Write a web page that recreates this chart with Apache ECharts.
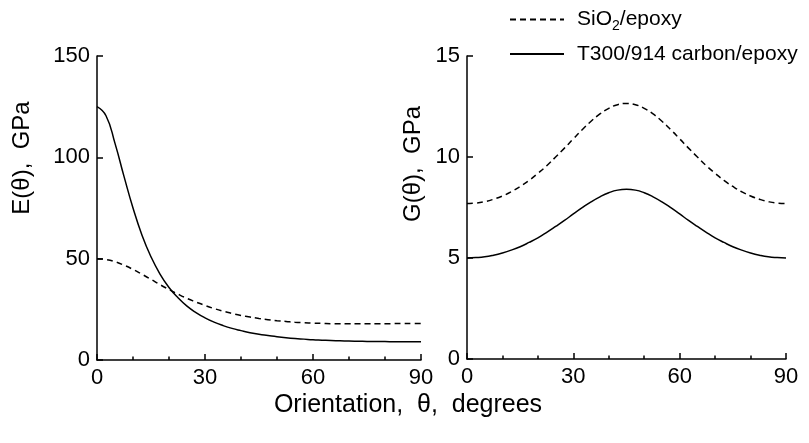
<!DOCTYPE html>
<html>
<head>
<meta charset="utf-8">
<script src="https://cdn.jsdelivr.net/npm/echarts@6/dist/echarts.min.js"></script>
<style>
  html, body { margin: 0; padding: 0; background: #fff; }
  #chart { width: 809px; height: 443px; }
</style>
</head>
<body>
<div id="chart"></div>
<script>
// Orientation angle (degrees)
const theta = [0,2.5,5,7.5,10,12.5,15,17.5,20,22.5,25,27.5,30,32.5,35,37.5,40,42.5,45,
  47.5,50,52.5,55,57.5,60,62.5,65,67.5,70,72.5,75,77.5,80,82.5,85,87.5,90];

// Young's modulus E(theta), GPa
const eCarbon = [125,120.5,106.9,90.6,75.0,61.6,50.9,42.4,35.8,30.7,26.6,23.4,20.8,18.7,17.0,15.6,14.5,13.5,12.7,
  12.1,11.5,11.0,10.6,10.3,10.0,9.8,9.6,9.5,9.35,9.26,9.18,9.12,9.07,9.04,9.02,9.0,9.0];
const eSiO2 = [50,49.6,48.5,46.8,44.7,42.3,39.8,37.2,34.8,32.5,30.4,28.6,26.9,25.4,24.1,23.0,22.0,21.2,20.5,
  19.9,19.4,19.0,18.6,18.4,18.2,18.05,17.9,17.9,17.86,17.86,17.87,17.9,17.93,17.95,17.98,18.0,18.0];

// Shear modulus G(theta), GPa
const gCarbon = [5.00,5.02,5.06,5.14,5.25,5.39,5.56,5.77,6.00,6.27,6.56,6.86,7.18,7.49,7.78,8.03,8.23,8.36,8.40,
  8.36,8.23,8.03,7.78,7.49,7.18,6.86,6.56,6.27,6.00,5.77,5.56,5.39,5.25,5.14,5.06,5.02,5.00];
const gSiO2 = [7.70,7.72,7.79,7.91,8.07,8.28,8.54,8.84,9.19,9.57,10.00,10.44,10.90,11.35,11.77,12.13,12.41,12.59,12.65,
  12.59,12.41,12.13,11.77,11.35,10.90,10.44,10.00,9.57,9.19,8.84,8.54,8.28,8.07,7.91,7.79,7.72,7.70];

const xTicks = [0, 30, 60, 90];
const eTicks = [0, 50, 100, 150];
const gTicks = [0, 5, 10, 15];

const nameSiO2 = 'SiO2/epoxy';
const nameCarbon = 'T300/914 carbon/epoxy';

const FONT = '"Liberation Sans", Arial, sans-serif';
const pair = (ys) => theta.map((t, i) => [t, ys[i]]);

function xAxisCfg(idx) {
  return {
    type: 'value', gridIndex: idx, min: xTicks[0], max: xTicks[xTicks.length - 1], interval: 30,
    axisLine: { show: true, onZero: false, lineStyle: { color: '#000', width: 1.5 } },
    axisTick: { show: true, inside: true, length: 6, lineStyle: { color: '#000', width: 1.5 } },
    minorTick: { show: true, splitNumber: 3, length: 3.5, lineStyle: { color: '#000', width: 1.5 } },
    splitLine: { show: false },
    axisLabel: { color: '#000', fontSize: 22, fontFamily: FONT, margin: 7 }
  };
}
function yAxisCfg(idx, ticks) {
  return {
    type: 'value', gridIndex: idx, min: ticks[0], max: ticks[ticks.length - 1], interval: ticks[1] - ticks[0],
    axisLine: { show: true, lineStyle: { color: '#000', width: 1.5 } },
    axisTick: { show: true, inside: true, length: 6, lineStyle: { color: '#000', width: 1.5 } },
    splitLine: { show: false },
    axisLabel: { color: '#000', fontSize: 22, fontFamily: FONT, margin: 7 }
  };
}
function lineSeries(name, xi, yi, data, dashed) {
  return {
    name: name, type: 'line', xAxisIndex: xi, yAxisIndex: yi, data: pair(data),
    showSymbol: false, symbol: 'none', smooth: 0.5, animation: false,
    lineStyle: { color: '#000', width: 1.5, type: dashed ? [6, 4] : 'solid' },
    itemStyle: { color: '#000' }
  };
}

const chart = echarts.init(document.getElementById('chart'), null, { renderer: 'canvas' });
chart.setOption({
  animation: false,
  backgroundColor: '#fff',
  grid: [
    { left: 97, top: 56, width: 324, height: 304 },
    { left: 467, top: 56, width: 319, height: 303 }
  ],
  xAxis: [xAxisCfg(0), xAxisCfg(1)],
  yAxis: [yAxisCfg(0, eTicks), yAxisCfg(1, gTicks)],
  legend: {
    data: [nameSiO2, nameCarbon],
    orient: 'vertical', left: 504, top: 4,
    itemWidth: 54, itemHeight: 14, itemGap: 10,
    itemStyle: { opacity: 0 },
    formatter: function (n) {
      return n === nameSiO2 ? '{a|SiO}{s|2}{a|/epoxy}' : '{a|' + n + '}';
    },
    textStyle: {
      color: '#000', fontFamily: FONT, fontSize: 21, padding: [0, 0, 0, 8],
      rich: {
        a: { fontSize: 21, fontFamily: FONT, color: '#000', height: 25 },
        s: { fontSize: 14, fontFamily: FONT, color: '#000', padding: [14, 0, 0, 0] }
      }
    }
  },
  series: [
    lineSeries(nameSiO2, 0, 0, eSiO2, true),
    lineSeries(nameCarbon, 0, 0, eCarbon, false),
    lineSeries(nameSiO2, 1, 1, gSiO2, true),
    lineSeries(nameCarbon, 1, 1, gCarbon, false)
  ],
  graphic: [
    { type: 'text', x: 22, y: 158, rotation: Math.PI / 2,
      style: { text: 'E(\u03B8),  GPa', font: '24px ' + FONT, fill: '#000', textAlign: 'center', textVerticalAlign: 'middle' } },
    { type: 'text', x: 413, y: 164, rotation: Math.PI / 2,
      style: { text: 'G(\u03B8),  GPa', font: '24px ' + FONT, fill: '#000', textAlign: 'center', textVerticalAlign: 'middle' } },
    { type: 'text', x: 408, y: 405,
      style: { text: 'Orientation,  \u03B8,  degrees', font: '25px ' + FONT, fill: '#000', textAlign: 'center', textVerticalAlign: 'middle' } }
  ]
});
</script>
</body>
</html>
